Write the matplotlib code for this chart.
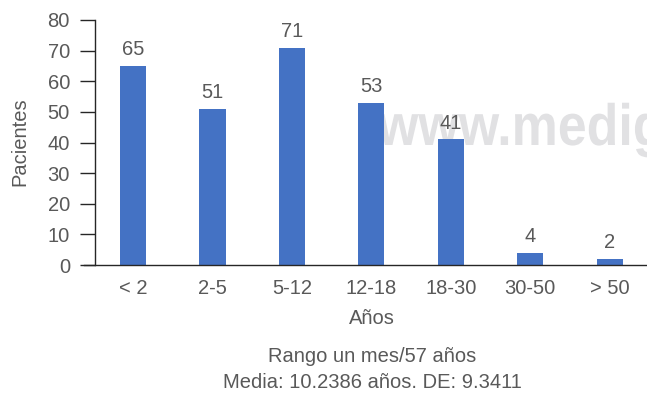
import matplotlib
matplotlib.use("Agg")
import matplotlib.pyplot as plt
from matplotlib import font_manager
from matplotlib.patheffects import AbstractPathEffect
from matplotlib.transforms import Affine2D

categories = ["< 2", "2-5", "5-12", "12-18", "18-30", "30-50", "> 50"]
patients = [65, 51, 71, 53, 41, 4, 2]
yticks = [0, 10, 20, 30, 40, 50, 60, 70, 80]

names = {f.name for f in font_manager.fontManager.ttflist}
family = ["Liberation Sans Narrow", "Liberation Sans", "DejaVu Sans"]
family = [f for f in family if f in names] or ["DejaVu Sans"]
plt.rcParams["font.family"] = family

TEXT = "#595959"
BAR = "#4472C4"


class Condense(AbstractPathEffect):
    """Squeeze glyph outlines horizontally around a fixed x (display px)."""

    def __init__(self, sx, x0):
        super().__init__()
        self.sx = sx
        self.x0 = x0

    def draw_path(self, renderer, gc, tpath, affine, rgbFace=None):
        squeeze = Affine2D().translate(-self.x0, 0).scale(self.sx, 1).translate(self.x0, 0)
        renderer.draw_path(gc, tpath, affine + squeeze, rgbFace)


W, H = 647, 396
fig = plt.figure(figsize=(W / 100, H / 100), dpi=100)
ax = fig.add_axes([0.1468, 0.3308, 0.8532, 0.6187])

# watermark behind the bars
wm_x = 378
fig.text(wm_x / W, 1 - 145 / H, "www.medig", fontsize=42, fontweight="bold",
         color="#e1e1e3", family=["Liberation Sans", "DejaVu Sans"],
         ha="left", va="baseline", zorder=0,
         path_effects=[Condense(0.89, wm_x)])
ax.set_zorder(1)
ax.patch.set_alpha(0)

x = list(range(len(categories)))
ax.bar(x, patients, width=0.33, color=BAR, zorder=2)
for xi, v in zip(x, patients):
    ax.text(xi, v + 2.2, str(v), ha="center", va="bottom", fontsize=14.5, color=TEXT)

ax.set_xlim(-0.478, 6.47)
ax.set_ylim(0, 80)
ax.set_yticks(yticks)
ax.set_xticks(x)
ax.set_xticklabels(categories)
ax.tick_params(axis="y", labelsize=14.5, labelcolor=TEXT, length=11, width=1,
               color="#262626", direction="out", pad=7)
ax.tick_params(axis="x", labelsize=14.5, labelcolor=TEXT, length=0, pad=10)
for s in ["top", "right"]:
    ax.spines[s].set_visible(False)
for s in ["left", "bottom"]:
    ax.spines[s].set_color("#262626")
    ax.spines[s].set_linewidth(1)
ax.spines["bottom"].set_bounds(-0.62, 6.47)
ax.spines["bottom"].set_clip_on(False)

fig.text(20 / W, 1 - 142 / H, "Pacientes", rotation=90, fontsize=14.5,
         color=TEXT, ha="center", va="center")
fig.text(372 / W, 1 - 319 / H, "Años", fontsize=14.5, color=TEXT,
         ha="center", va="center")
fig.text(372 / W, 1 - 356 / H, "Rango un mes/57 años", fontsize=14.5,
         color=TEXT, ha="center", va="center")
fig.text(372 / W, 1 - 383 / H, "Media: 10.2386 años. DE: 9.3411", fontsize=14.5,
         color=TEXT, ha="center", va="center")

fig.savefig("out.png", dpi=100)
